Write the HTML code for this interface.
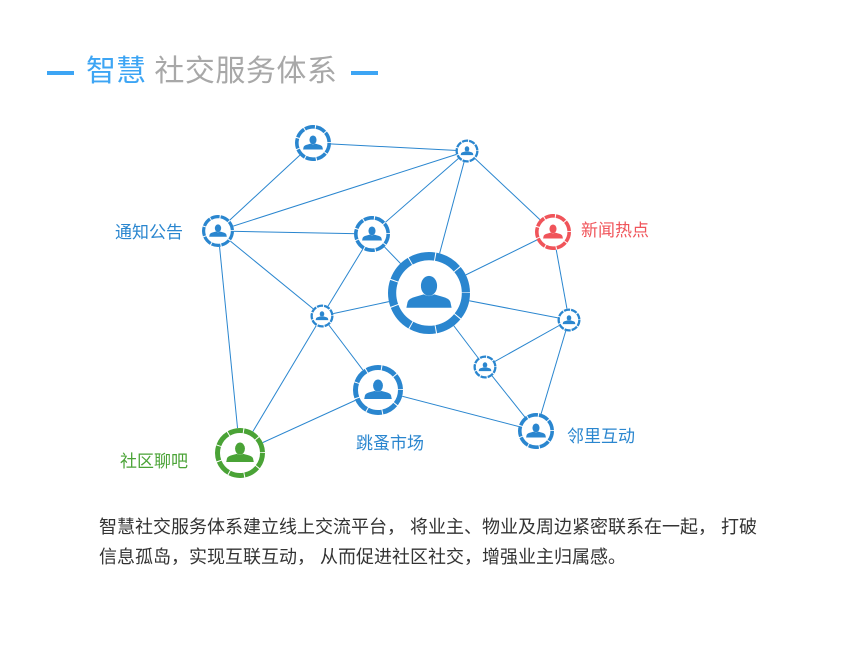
<!DOCTYPE html>
<html><head><meta charset="utf-8"><style>
html,body{margin:0;padding:0;background:#fff;}
body{width:848px;height:651px;position:relative;overflow:hidden;font-family:"Liberation Sans","Noto Sans CJK SC",sans-serif;}
.t{position:absolute;white-space:nowrap;}
</style></head><body>
<div style="position:absolute;left:47px;top:71px;width:27px;height:4px;background:#3da5f4"></div>
<div style="position:absolute;left:351px;top:71px;width:27px;height:4px;background:#3da5f4"></div>
<div class="t" style="left:86px;top:53px;font-size:30px;line-height:38px;color:#3da5f4">智慧 <span style="color:#a8a8a8;letter-spacing:0.5px">社交服务体系</span></div>
<svg id="s" width="848" height="651" style="position:absolute;left:0;top:0"></svg>
<div class="t" style="left:115px;top:218px;font-size:17px;color:#2a86cf">通知公告</div>
<div class="t" style="left:581px;top:216px;font-size:17px;color:#f0545a">新闻热点</div>
<div class="t" style="left:120px;top:447px;font-size:17px;color:#4aa336">社区聊吧</div>
<div class="t" style="left:356px;top:429px;font-size:17px;color:#2a86cf">跳蚤市场</div>
<div class="t" style="left:567px;top:422px;font-size:17px;color:#2a86cf">邻里互动</div>
<div class="t" style="left:99px;top:512px;font-size:18px;line-height:30px;color:#333">智慧社交服务体系建立线上交流平台， 将业主、物业及周边紧密联系在一起， 打破<br>信息孤岛，实现互联互动， 从而促进社区社交，增强业主归属感。</div>
<script>
var N={A:[313,143,18,'#2a86cf'],B:[467,151,11.5,'#2a86cf'],C:[218,231,16,'#2a86cf'],D:[372,234,18,'#2a86cf'],
E:[429,293,41,'#2a86cf'],F:[553,232,18,'#f0545a'],G:[322,316,11.5,'#2a86cf'],H:[569,320,11.5,'#2a86cf'],
I:[485,367,11.5,'#2a86cf'],J:[378,390,25,'#2a86cf'],K:[536,431,18,'#2a86cf'],L:[240,453,25,'#4aa336']};
var E=['AB','AC','CB','CD','DB','BE','BF','CG','CL','DG','DE','GE','GJ','GL','EF','EH','EI','FH','HI','HK','IK','JK','JL'];
var h='';
E.forEach(function(e){var a=N[e[0]],b=N[e[1]];h+='<line x1="'+a[0]+'" y1="'+a[1]+'" x2="'+b[0]+'" y2="'+b[1]+'" stroke="#2a86cf" stroke-width="1"/>';});
for(var k in N){var n=N[k],x=n[0],y=n[1],r=n[2],c=n[3];
var sw=Math.max(2,r*0.2),rr=r-sw/2,circ=2*Math.PI*rr,seg=circ/9;
h+='<circle cx="'+x+'" cy="'+y+'" r="'+r+'" fill="#fff"/>';
h+='<circle cx="'+x+'" cy="'+y+'" r="'+rr+'" fill="none" stroke="'+c+'" stroke-width="'+sw+'" stroke-dasharray="'+(seg-1)+' 1"/>';
var s=r*0.58;
h+='<g transform="translate('+x+','+y+') scale('+s+')" fill="'+c+'"><ellipse cx="0" cy="-0.3" rx="0.34" ry="0.42"/><path d="M-0.95 0.62 L-0.9 0.38 Q-0.85 0.22 -0.55 0.15 L-0.22 0.06 Q0 0.2 0.22 0.06 L0.55 0.15 Q0.85 0.22 0.9 0.38 L0.95 0.62 Z"/></g>';}
document.getElementById('s').innerHTML=h;
</script>
</body></html>
